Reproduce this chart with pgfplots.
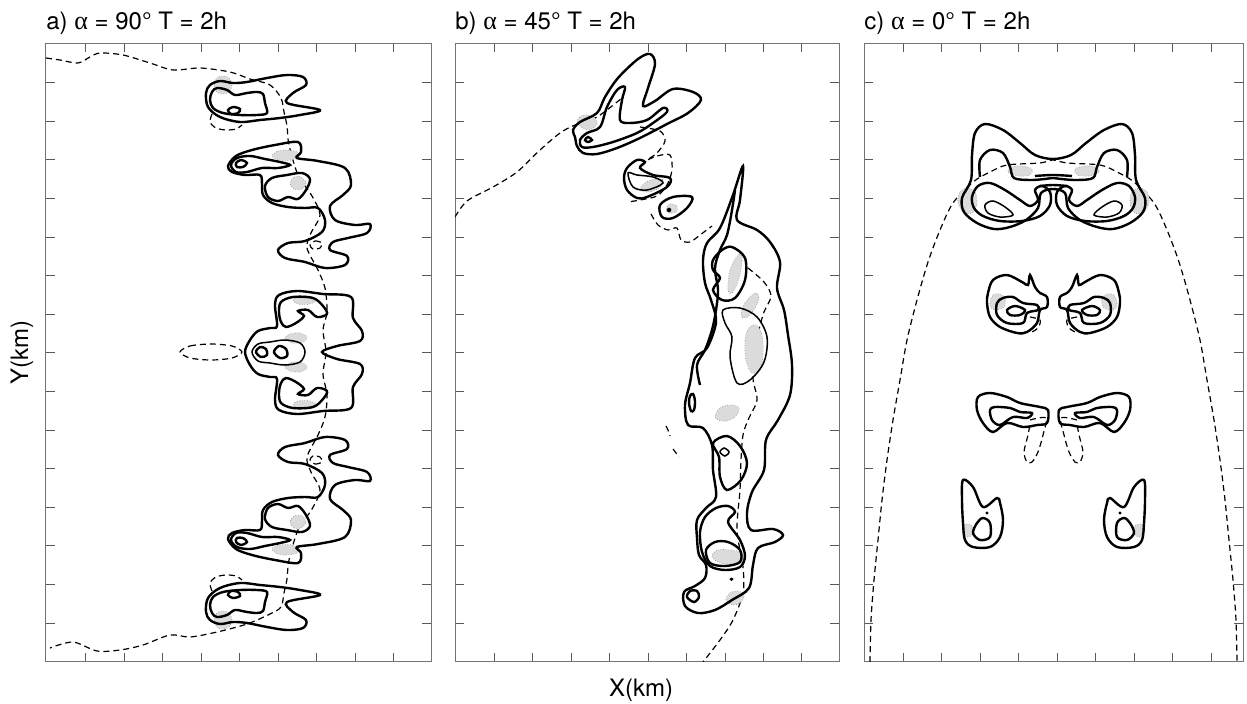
\documentclass[border=0pt]{standalone}
\usepackage{fontspec}
\setmainfont{TeX Gyre Heros}
\newfontfamily\grk{Liberation Serif}
\usepackage{pgfplots}
\pgfplotsset{compat=1.18}
\pgfplotsset{
  panel/.style={
    x=0.5pt, y=0.5pt, y dir=reverse,
    ymin=43.5, ymax=661.5,
    ytick={82.6,121.2,159.8,198.4,237,275.6,314.2,352.8,391.4,430,468.6,507.2,545.8,584.4,623},
    xticklabels={}, yticklabels={},
    tick align=inside, major tick length=4.5pt,
    tick style={black!65, line width=0.4pt},
    axis line style={black!55, line width=0.5pt},
    title style={at={(axis description cs:0,1)}, anchor=base west, yshift=0.75pt,
      font=\fontsize{12}{14}\selectfont, inner sep=0pt},
    label style={font=\fontsize{12}{14}\selectfont},
    clip=true,
  },
  thk/.style={black, line width=1.2pt, smooth cycle, tension=0.55},
  thko/.style={black, line width=1.2pt, smooth, tension=0.55},
  med/.style={black, line width=0.75pt, smooth cycle, tension=0.55},
  dsh/.style={black, line width=0.6pt, dash pattern=on 3pt off 2pt, smooth, tension=0.5},
  dshc/.style={black, line width=0.6pt, dash pattern=on 3pt off 2pt, smooth cycle, tension=0.5},
  shd/.style={fill=black!14, draw=black!50, line width=0.3pt, densely dotted, smooth cycle, tension=0.6},
}
\begin{document}
\begin{tikzpicture}
\useasboundingbox (0,0) rectangle (623.5pt,-352pt);
% ---------------- panel a ----------------
\begin{axis}[panel, xmin=46, xmax=431, at={(23pt,-330.75pt)}, anchor=south west,
  xtick={85,124,162,201,239,278,316,355,393},
  title={a) {\grk\fontsize{13}{14}\selectfont α} = 90° T = 2h},
  ylabel={Y(km)},
  ylabel style={at={(axis description cs:0,0.5)}, anchor=center, yshift=12pt}]
% main dashed line
\addplot[dsh] coordinates {(46,58) (60,60) (78,63) (90,57) (100,53) (123,55) (150,63) (173,70) (200,68) (230,72) (250,79) (270,85) (281,98) (284,112) (287,126) (289,145) (298,175) (312,196) (320,215) (311,233) (307,248) (318,270) (325,288) (327,312) (323,330) (326,352) (323,374) (327,395) (325,417) (318,435) (307,457) (311,472) (320,490) (312,509) (298,530) (289,560) (287,579) (284,593) (281,607) (270,614) (247,624) (217,632) (190,637) (170,635) (143,645) (120,650) (97,651) (73,642) (50,648)};
% top vortex
\addplot[shd] coordinates {(214,85) (217,78) (223,76) (229,78) (232,85) (229,92) (223,94) (217,92)};
\addplot[thk] coordinates {(206,93) (210,85) (220,81) (233,83) (247,82) (267,78) (287,75) (303,77) (306,85) (293,93) (287,103) (320,110) (300,115) (280,118) (260,120) (240,122) (220,117) (208,107)};
\addplot[thk] coordinates {(212,92) (217,88) (227,90) (235,95) (247,93) (257,92) (263,94) (265,103) (267,113) (257,115) (240,115) (223,113) (213,108) (210,100)};
\addplot[thk] coordinates {(228,110) (233,107) (240,109) (238,113) (231,114)};
\addplot[dsh] coordinates {(212,114) (210,122) (216,128) (226,130) (236,129) (242,125)};
% bottom vortex
\addplot[shd] coordinates {(214,620) (217,627) (223,629) (229,627) (232,620) (229,613) (223,611) (217,613)};
\addplot[thk] coordinates {(206,612) (210,620) (220,624) (233,622) (247,623) (267,627) (287,630) (303,628) (306,620) (293,612) (287,602) (320,595) (300,590) (280,587) (260,585) (240,583) (220,588) (208,598)};
\addplot[thk] coordinates {(212,613) (217,617) (227,615) (235,610) (247,612) (257,613) (263,611) (265,602) (267,592) (257,590) (240,590) (223,592) (213,597) (210,605)};
\addplot[thk] coordinates {(228,595) (233,598) (240,596) (238,592) (231,591)};
\addplot[dsh] coordinates {(212,591) (210,583) (216,577) (226,575) (236,576) (242,580)};
% second structure (upper)
\addplot[shd] coordinates {(272,156) (278,151) (287,150) (297,152) (299,156) (292,160) (280,160)};
\addplot[shd] coordinates {(290,183) (294,177) (301,177) (306,183) (302,189) (294,189)};
\addplot[thk] coordinates {(228,166) (236,156) (252,150) (275,145) (298,142) (301,152) (297,158) (318,161) (345,168) (351,185) (343,195) (330,206) (335,220) (355,225) (370,224) (367,233) (348,238) (333,242) (330,250) (347,256) (345,265) (325,268) (305,262) (285,258) (278,250) (288,243) (305,241) (322,232) (325,220) (318,208) (305,208) (288,207) (272,203) (263,195) (262,184) (260,175) (245,175) (232,172)};
\addplot[thk] coordinates {(231,165) (237,158) (250,156) (265,159) (280,162) (290,165) (278,168) (262,168) (247,172) (236,172)};
\addplot[thk] coordinates {(236,163) (241,160) (247,163) (243,167) (237,167)};
\addplot[thk] coordinates {(265,186) (272,178) (287,175) (302,173) (310,179) (306,190) (298,199) (288,197) (278,201) (268,197)};
\addplot[dshc] coordinates {(310,245) (315,241) (322,243) (320,248) (313,249)};
% second structure (lower, mirrored)
\addplot[shd] coordinates {(272,549) (278,554) (287,555) (297,553) (299,549) (292,545) (280,545)};
\addplot[shd] coordinates {(290,522) (294,528) (301,528) (306,522) (302,516) (294,516)};
\addplot[thk] coordinates {(228,539) (236,549) (252,555) (275,560) (298,563) (301,553) (297,547) (318,544) (345,537) (351,520) (343,510) (330,499) (335,485) (355,480) (370,481) (367,472) (348,467) (333,463) (330,455) (347,449) (345,440) (325,437) (305,443) (285,447) (278,455) (288,462) (305,464) (322,473) (325,485) (318,497) (305,497) (288,498) (272,502) (263,510) (262,521) (260,530) (245,530) (232,533)};
\addplot[thk] coordinates {(231,540) (237,547) (250,549) (265,546) (280,543) (290,540) (278,537) (262,537) (247,533) (236,533)};
\addplot[thk] coordinates {(236,542) (241,545) (247,542) (243,538) (237,538)};
\addplot[thk] coordinates {(265,519) (272,527) (287,530) (302,532) (310,526) (306,515) (298,506) (288,508) (278,504) (268,508)};
\addplot[dshc] coordinates {(310,460) (315,464) (322,462) (320,457) (313,456)};
% middle structure
\addplot[dshc] coordinates {(180,352) (190,346) (211,344) (232,346) (242,352) (232,358) (211,360) (190,358)};
\addplot[shd] coordinates {(285,338) (290,334) (300,333) (307,337) (303,342) (292,343)};
\addplot[shd] coordinates {(285,367) (290,371) (300,372) (307,368) (303,363) (292,362)};
\addplot[shd] coordinates {(293,300) (300,296) (312,297) (317,300) (310,304) (298,304)};
\addplot[shd] coordinates {(293,405) (300,409) (312,408) (317,405) (310,401) (298,401)};
\addplot[thk] coordinates {(245,352) (250,340) (258,331) (270,328) (277,326) (275,305) (279,295) (297,291) (323,294) (351,297) (353,318) (362,331) (360,341) (337,346) (322,352) (337,359) (360,364) (362,374) (353,387) (351,408) (323,411) (297,414) (279,410) (275,400) (277,379) (270,377) (258,374) (250,365)};
\addplot[thk] coordinates {(281,302) (293,297) (313,298) (323,306) (327,314) (317,317) (308,310) (298,311) (304,316) (296,323) (286,327) (281,322) (279,312)};
\addplot[thk] coordinates {(281,403) (293,408) (313,407) (323,399) (327,391) (317,388) (308,395) (298,394) (304,389) (296,382) (286,378) (281,383) (279,393)};
\addplot[med] coordinates {(252,352) (258,344) (270,342) (285,340) (300,343) (305,352) (300,362) (285,365) (270,363) (258,361)};
\addplot[thk] coordinates {(256,352) (260,347) (266,349) (267,355) (261,357)};
\addplot[thk] coordinates {(274,352) (279,346) (286,349) (287,356) (280,358)};
\end{axis}
% ---------------- panel b ----------------
\begin{axis}[panel, xmin=455, xmax=839, at={(227.5pt,-330.75pt)}, anchor=south west,
  xtick={494,532,571,609,648,686,725,763,801},
  title={b) {\grk\fontsize{13}{14}\selectfont α} = 45° T = 2h},
  xlabel={X(km)},
  xlabel style={at={(axis description cs:0.5,0)}, anchor=center, yshift=-14.25pt, xshift=-3pt}]
\addplot[dsh] coordinates {(455,217) (467,201) (493,187) (517,172) (540,150) (560,133) (575,125) (597,117) (622,98)};
\addplot[dsh] coordinates {(640,127) (660,131) (665,141) (657,153) (647,160) (657,156) (670,155) (672,170) (667,185) (657,196) (640,200) (628,202)};
\addplot[dsh] coordinates {(651,214) (658,225) (668,230) (677,228) (681,240) (690,242) (700,235) (712,226)};
\addplot[dsh] coordinates {(748,268) (764,282) (771,296) (764,312) (759,330) (757,350) (753,378) (757,400) (748,420) (743,435) (741,460) (740,490) (737,530) (743,567) (743,593) (733,620) (720,640) (703,662)};
\addplot[dsh] coordinates {(666,426) (668,430) (670,436)};
\addplot[dsh] coordinates {(673,449) (676,453) (679,457)};
% top bird shape
\addplot[shd] coordinates {(577,122) (581,116) (588,115) (595,118) (597,124) (592,129) (584,129)};
\addplot[thk] coordinates {(575,137) (573,130) (580,122) (597,113) (605,97) (618,78) (638,59) (650,54) (655,64) (648,88) (643,106) (655,101) (673,89) (693,92) (701,100) (688,113) (667,124) (640,138) (617,148) (597,154) (583,153) (577,146)};
\addplot[thk] coordinates {(580,140) (587,133) (600,127) (607,107) (617,90) (625,87) (622,100) (620,120) (630,123) (647,120) (663,108) (667,112) (653,123) (637,133) (613,142) (593,147) (582,147)};
\addplot[thk] coordinates {(585,140) (588,137) (592,140) (588,142)};
% small vortices
\addplot[shd] coordinates {(640,190) (645,183) (655,179) (663,180) (660,187) (650,192)};
\addplot[thk] coordinates {(627,168) (637,160) (645,162) (640,168) (653,175) (670,178) (667,187) (647,197) (637,198) (627,190) (624,178)};
\addplot[med] coordinates {(628,173) (633,187) (647,190) (663,183) (653,177) (637,175)};
\addplot[shd] coordinates {(666,209) (670,204) (677,206) (676,212) (669,213)};
\addplot[thk] coordinates {(660,205) (673,197) (692,197) (687,208) (673,218) (662,217)};
\addplot[black, fill=black, smooth cycle] coordinates {(667,210) (669,208) (671,210) (669,212)};
% long band
\addplot[shd] coordinates {(715,416) (720,408) (730,405) (739,408) (736,416) (727,421) (718,420)};
\addplot[shd] coordinates {(712,556) (718,550) (730,550) (742,553) (744,560) (735,564) (720,563)};
\addplot[shd] coordinates {(726,600) (730,593) (738,591) (744,595) (741,602) (733,605)};
\addplot[shd] coordinates {(728,290) (730,270) (738,255) (742,258) (740,275) (733,292)};
\addplot[shd] coordinates {(741,315) (745,303) (755,293) (759,297) (755,308) (746,318)};
\addplot[shd] coordinates {(745,340) (749,328) (756,325) (762,335) (763,355) (760,370) (752,373) (746,360)};
\addplot[thk] coordinates {(743,166) (740,200) (737,220) (757,230) (770,242) (780,262) (777,288) (784,310) (788,335) (792,365) (790,395) (778,420) (766,440) (764,470) (752,492) (747,513) (751,530) (773,529) (783,535) (775,542) (758,548) (753,565) (749,588) (732,600) (715,610) (698,613) (685,606) (684,592) (695,586) (705,578) (706,565) (699,555) (697,538) (697,520) (706,508) (716,497) (713,470) (712,445) (703,428) (688,425) (685,405) (690,383) (695,358) (707,348) (716,322) (711,300) (705,283) (703,260) (707,243) (720,228) (733,195)};
\addplot[thko] coordinates {(735,190) (732,210) (727,235) (720,250) (715,268) (718,290) (716,310) (712,330) (705,350) (697,365) (700,385)};
\addplot[thk] coordinates {(713,260) (722,250) (732,247) (745,258) (745,280) (735,298) (722,300) (713,290) (720,278) (713,270)};
\addplot[med] coordinates {(723,310) (740,308) (757,317) (767,337) (764,362) (750,380) (737,383) (730,357) (732,337) (725,323)};
\addplot[thk] coordinates {(713,443) (727,436) (740,446) (747,463) (741,480) (727,490) (720,477) (719,457)};
\addplot[med] coordinates {(720,452) (724,448) (729,452) (725,456)};
\addplot[thk] coordinates {(700,532) (705,517) (716,508) (728,506) (735,512) (728,522) (740,540) (745,556) (740,567) (725,570) (710,566) (702,552)};
\addplot[thk] coordinates {(706,550) (715,542) (728,542) (740,550) (740,562) (725,566) (710,563)};
\addplot[thk] coordinates {(687,597) (690,591) (697,591) (699,597) (694,602)};
\addplot[thk] coordinates {(689,403) (690,396) (693,394) (695,401) (694,410) (691,411)};
\addplot[black, fill=black, smooth cycle] coordinates {(730,579) (731.5,578) (733,579) (731.5,580.5)};
\end{axis}
% ---------------- panel c ----------------
\begin{axis}[panel, xmin=864, xmax=1243, at={(432pt,-330.75pt)}, anchor=south west,
  xtick={903,941,980,1018,1057,1095,1134,1172,1211},
  title={c) {\grk\fontsize{13}{14}\selectfont α} = 0° T = 2h}]
\addplot[dsh] coordinates {(870,662) (871,620) (874,580) (878,540) (882,500) (887,460) (893,420) (900,380) (907,340) (917,300) (928,262) (940,230) (953,203) (973,182) (990,172) (1007,165) (1040,163) (1053,160) (1067,163) (1100,165) (1117,172) (1134,182) (1154,203) (1167,230) (1179,262) (1190,300) (1200,340) (1207,380) (1214,420) (1220,460) (1225,500) (1229,540) (1233,580) (1236,620) (1237,662)};
% top structure
\addplot[shd] coordinates {(958,202) (960,192) (967,188) (975,192) (977,204) (972,213) (963,212)};
\addplot[shd] coordinates {(1149,202) (1147,192) (1140,188) (1132,192) (1130,204) (1135,213) (1144,212)};
\addplot[shd] coordinates {(1008,172) (1012,167) (1022,166) (1032,169) (1030,175) (1018,176)};
\addplot[shd] coordinates {(1099,172) (1095,167) (1085,166) (1075,169) (1077,175) (1089,176)};
\addplot[thk] coordinates {(985,124) (1003,130) (1020,143) (1035,155) (1053,159) (1071,155) (1086,143) (1104,130) (1122,124) (1132,133) (1135,155) (1136,180) (1145,198) (1143,212) (1130,223) (1113,229) (1097,227) (1080,220) (1068,208) (1065,193) (1053,189) (1041,193) (1038,208) (1026,220) (1010,227) (994,229) (977,223) (964,212) (962,198) (971,180) (972,155) (975,133)};
\addplot[thko] coordinates {(980,177) (980,160) (990,150) (1003,153) (1010,167) (1014,178) (1030,180) (1045,179) (1053,178) (1061,179) (1077,180) (1093,178) (1097,167) (1104,153) (1117,150) (1127,160) (1127,177)};
\addplot[thk] coordinates {(972,197) (978,186) (990,183) (1005,190) (1020,200) (1030,206) (1038,200) (1035,190) (1042,186) (1050,192) (1050,205) (1040,216) (1022,221) (1000,221) (983,216) (974,208)};
\addplot[thk] coordinates {(1135,197) (1129,186) (1117,183) (1102,190) (1087,200) (1077,206) (1069,200) (1072,190) (1065,186) (1057,192) (1057,205) (1067,216) (1085,221) (1107,221) (1124,216) (1133,208)};
\addplot[med] coordinates {(985,205) (993,201) (1005,207) (1013,215) (1000,217) (988,213)};
\addplot[med] coordinates {(1122,205) (1114,201) (1102,207) (1094,215) (1107,217) (1119,213)};
\addplot[thko] coordinates {(1035,176) (1053,175) (1072,176)};
\addplot[thko] coordinates {(1040,186) (1053,185) (1067,186)};
% upper pair
\addplot[shd] coordinates {(990,302) (993,295) (999,294) (1005,298) (1004,307) (997,310) (991,308)};
\addplot[shd] coordinates {(1117,302) (1114,295) (1108,294) (1102,298) (1103,307) (1110,310) (1116,308)};
\addplot[thk] coordinates {(988,293) (993,280) (1007,275) (1022,282) (1028,285) (1030,275) (1035,287) (1040,293) (1047,297) (1047,307) (1040,310) (1037,323) (1027,332) (1017,333) (1000,327) (990,317) (987,303)};
\addplot[thk] coordinates {(1119,293) (1114,280) (1100,275) (1085,282) (1079,285) (1077,275) (1072,287) (1067,293) (1060,297) (1060,307) (1067,310) (1070,323) (1080,332) (1090,333) (1107,327) (1117,317) (1120,303)};
\addplot[thk] coordinates {(997,303) (1003,298) (1013,297) (1023,303) (1037,305) (1038,310) (1027,313) (1023,323) (1007,323) (997,315)};
\addplot[thk] coordinates {(1110,303) (1104,298) (1094,297) (1084,303) (1070,305) (1069,310) (1080,313) (1084,323) (1100,323) (1110,315)};
\addplot[thk] coordinates {(1007,310) (1015,306) (1025,310) (1020,315) (1010,315)};
\addplot[thk] coordinates {(1100,310) (1092,306) (1082,310) (1087,315) (1097,315)};
\addplot[dsh] coordinates {(1030,317) (1040,320) (1038,328) (1030,333)};
\addplot[dsh] coordinates {(1077,317) (1067,320) (1069,328) (1077,333)};
% lower pair
\addplot[thk] coordinates {(978,397) (990,393) (1007,397) (1020,403) (1040,407) (1048,410) (1047,423) (1037,425) (1023,427) (1007,423) (993,432) (983,423) (977,410)};
\addplot[thk] coordinates {(1129,397) (1117,393) (1100,397) (1087,403) (1067,407) (1059,410) (1060,423) (1070,425) (1084,427) (1100,423) (1114,432) (1124,423) (1130,410)};
\addplot[thk] coordinates {(990,410) (995,407) (1010,408) (1020,412) (1032,413) (1027,418) (1013,417) (1000,425) (992,420)};
\addplot[thk] coordinates {(1117,410) (1112,407) (1097,408) (1087,412) (1075,413) (1080,418) (1094,417) (1107,425) (1115,420)};
\addplot[dsh] coordinates {(1030,420) (1046,418) (1043,435) (1038,452) (1032,462) (1027,462) (1024,452) (1028,435) (1030,424)};
\addplot[dsh] coordinates {(1077,420) (1061,418) (1064,435) (1069,452) (1075,462) (1080,462) (1083,452) (1079,435) (1077,424)};
% bottom pair
\addplot[shd] coordinates {(962,530) (964,525) (968,524) (973,527) (973,534) (968,537) (964,535)};
\addplot[shd] coordinates {(1145,530) (1143,525) (1139,524) (1134,527) (1134,534) (1139,537) (1143,535)};
\addplot[thk] coordinates {(963,480) (973,487) (983,507) (997,498) (1000,503) (1003,520) (1000,537) (990,547) (973,547) (965,540) (963,523) (962,500)};
\addplot[thk] coordinates {(1144,480) (1134,487) (1124,507) (1110,498) (1107,503) (1104,520) (1107,537) (1117,547) (1134,547) (1142,540) (1144,523) (1145,500)};
\addplot[thk] coordinates {(973,533) (977,523) (983,518) (990,523) (990,537) (980,540)};
\addplot[thk] coordinates {(1134,533) (1130,523) (1124,518) (1117,523) (1117,537) (1127,540)};
\addplot[black, fill=black, smooth cycle] coordinates {(986,513) (987,512) (988,513) (987,514)};
\addplot[black, fill=black, smooth cycle] coordinates {(1119,513) (1120,512) (1121,513) (1120,514)};
\end{axis}
\end{tikzpicture}
\end{document}
